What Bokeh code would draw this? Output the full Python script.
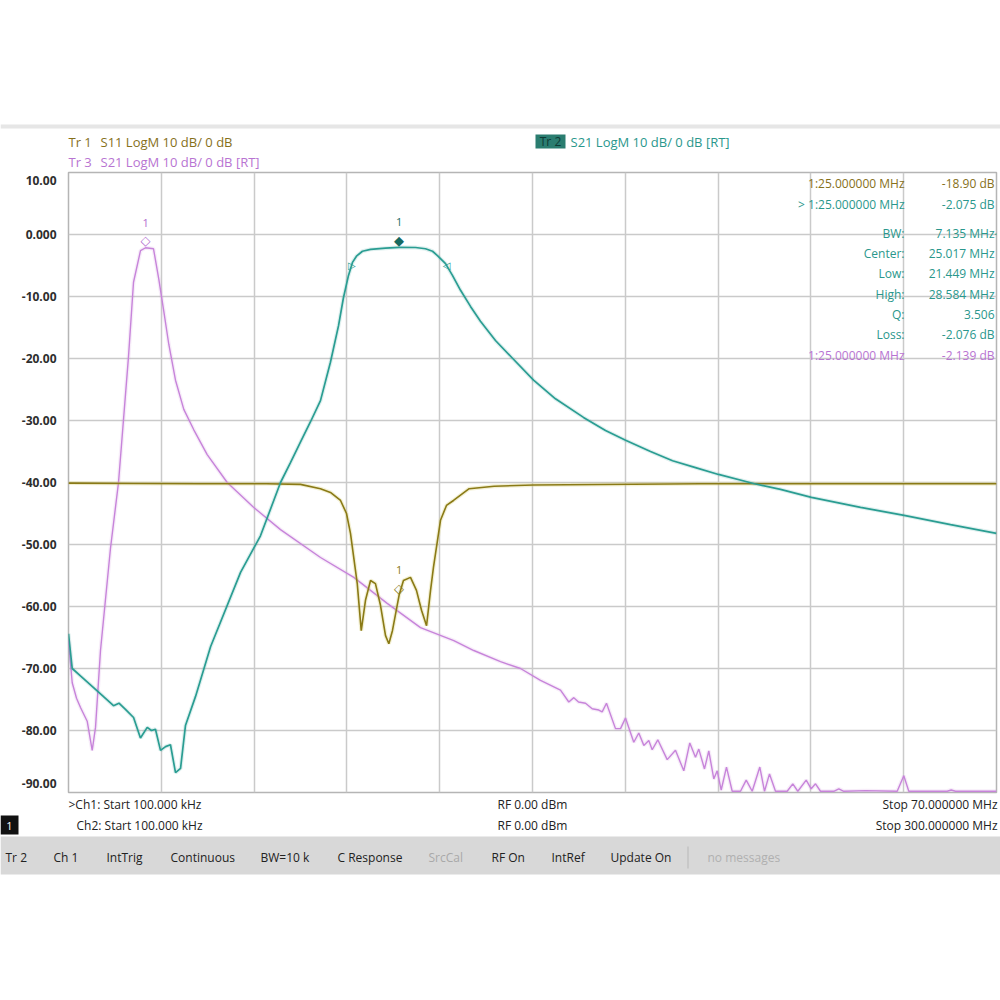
from bokeh.plotting import figure
from bokeh.layouts import column
from bokeh.models import Range1d, FixedTicker, Label
from bokeh.core.properties import value
from bokeh.embed import file_html
from bokeh.resources import INLINE

# ---------------- data ----------------
ch1_start, ch1_stop = 0.1, 70.0      # MHz (Tr1, Tr2)
ch2_start, ch2_stop = 0.1, 300.0     # MHz (Tr3)
y_grid_ticks = [10, 0, -10, -20, -30, -40, -50, -60, -70, -80, -90]
# label positions as drawn by the analyzer (top/bottom labels sit inside the box)
y_label_ticks = [8.7, 0, -10, -20, -30, -40, -50, -60, -70, -80, -88.5]
y_tick_labels = ["10.00", "0.000", "-10.00", "-20.00", "-30.00", "-40.00",
                 "-50.00", "-60.00", "-70.00", "-80.00", "-90.00"]

# Tr1 S11 (channel 1)
tr1_freq = [0.10, 5.0, 10.0, 15.0, 17.57, 19.08, 19.83, 20.59, 21.04, 21.34,
            21.85, 22.15, 22.47, 22.85, 23.22, 23.60, 23.98, 24.23, 24.50, 25.00,
            25.33, 25.86, 26.31, 26.69, 27.07, 27.37, 27.59, 28.12, 28.57, 29.10,
            30.28, 32.16, 35.13, 47.7, 70.0]
tr1_db = [-40.1, -40.15, -40.2, -40.2, -40.3, -41.0, -41.6, -42.9, -45.0, -48.2,
          -56.3, -63.9, -59.0, -55.8, -56.3, -59.8, -64.7, -66.0, -63.9, -58.2,
          -55.8, -55.3, -57.4, -60.6, -63.1, -57.4, -53.7, -46.1, -43.7, -42.9,
          -41.0, -40.6, -40.4, -40.2, -40.2]

# Tr2 S21 (channel 1)
tr2_freq = [0.10, 0.38, 1.00, 2.26, 3.49, 3.90, 4.39, 5.00, 5.52, 6.03, 6.35,
            6.65, 7.03, 7.41, 7.78, 8.16, 8.54, 8.91, 9.67, 10.80, 13.06, 14.56,
            16.07, 16.82, 17.57, 18.33, 19.08, 19.83, 20.44, 20.81, 21.19, 21.49,
            21.79, 22.24, 22.85, 23.98, 25.00, 26.24, 26.99, 27.52, 27.89, 28.50,
            29.02, 29.63, 30.38, 31.13, 32.26, 33.47, 35.13, 36.78, 38.89, 40.55,
            42.06, 43.94, 45.60, 47.33, 49.06, 51.77, 53.73, 56.06, 59.76, 63.04,
            66.54, 70.00]
tr2_db = [-64.4, -70.0, -71.2, -73.6, -76.0, -75.6, -76.6, -77.9, -81.2, -79.5,
          -80.0, -79.8, -83.2, -82.6, -82.3, -86.8, -86.1, -79.2, -74.5, -66.5,
          -54.5, -48.6, -40.0, -36.8, -33.5, -30.2, -26.8, -20.6, -14.7, -10.2,
          -6.6, -4.5, -3.5, -2.7, -2.4, -2.2, -2.075, -2.1, -2.3, -2.7, -3.4,
          -4.7, -6.6, -9.0, -11.6, -14.0, -17.1, -19.8, -23.5, -26.5, -29.5,
          -31.6, -33.2, -35.0, -36.5, -37.6, -38.7, -40.2, -41.1, -42.4, -44.0,
          -45.3, -46.8, -48.2]

# Tr3 S21 (channel 2)
tr3_freq = [0.10, 1.30, 2.69, 3.98, 6.14, 7.76, 8.83, 10.44, 13.67, 16.26, 19.49,
            21.11, 23.37, 25.00, 27.57, 29.28, 30.90, 32.51, 34.68, 37.36, 40.59,
            44.92, 51.39, 59.89, 68.61, 81.54, 92.30, 103.09, 113.85, 124.62,
            131.08, 139.71, 146.17, 152.63, 159.10, 161.78, 163.40, 164.92, 167.18,
            169.34, 171.48, 172.57, 173.96, 176.87, 178.49, 180.10, 182.78, 184.40,
            186.02, 187.63, 188.73, 190.54, 193.58, 196.26, 198.94, 200.88, 202.72,
            203.79, 205.63, 207.02, 208.64, 209.74, 211.03, 212.74, 214.59, 217.27,
            219.11, 221.05, 223.51, 225.03, 226.64, 228.58, 232.36, 234.17, 235.79,
            238.50, 240.12, 241.51, 243.13, 247.42, 249.04, 250.66, 257.67, 267.91,
            270.04, 271.66, 284.07, 285.36, 286.75, 300.0]
tr3_db = [-65.5, -72.3, -74.8, -76.3, -78.5, -83.2, -79.5, -67.1, -50.6, -40.0,
          -19.7, -7.7, -2.6, -2.139, -2.3, -7.2, -12.4, -17.7, -23.5, -28.2, -31.5,
          -35.5, -40.0, -44.0, -47.6, -52.1, -55.3, -59.5, -63.4, -65.5, -67.1,
          -68.9, -70.0, -71.9, -73.5, -75.4, -74.7, -75.4, -75.6, -76.5, -76.7,
          -77.0, -75.6, -79.7, -79.7, -78.0, -81.9, -80.4, -82.4, -81.6, -83.1,
          -81.5, -84.7, -83.2, -86.5, -82.0, -84.3, -83.0, -86.2, -83.3, -87.8,
          -86.5, -89.6, -85.9, -89.8, -89.8, -88.0, -89.8, -85.9, -89.8, -87.0,
          -89.8, -89.8, -88.6, -89.8, -88.0, -89.4, -88.6, -89.8, -89.8, -89.4,
          -89.8, -89.7, -89.8, -87.3, -89.8, -89.8, -89.6, -89.8, -89.8]

marker_freq = 25.0
tr1_marker_db = -58.2
tr2_marker_db = -2.075
tr3_marker_db = -2.139
bw_low, bw_high = 21.449, 28.584
bw_level = tr2_marker_db - 3.0

# ---------------- style ----------------
FONT = "Open Sans"
TEAL = "#2a9d92"
TEAL_TXT = "#2a978c"
OLIVE = "#8a7a16"
OLIVE_TXT = "#86701a"
PURPLE = "#c784da"
PURPLE_TXT = "#b874d2"
W = 1000
FL, FT, FR, FB = 68, 172, 996, 792   # frame edges in page pixels
PAD = 2
HEAD_H = FT - PAD
FOOT_TOP = FB + PAD

# ---------------- main chart ----------------
p = figure(width=W, height=FOOT_TOP - HEAD_H, x_range=Range1d(ch1_start, ch1_stop),
           y_range=Range1d(-90, 10), output_backend="svg", toolbar_location=None,
           min_border_left=FL, min_border_right=W - FR, min_border_top=PAD,
           min_border_bottom=PAD, background_fill_color="white",
           border_fill_color="white", outline_line_color="#b5b5b5",
           outline_line_width=1.5, frame_align=False)
p.extra_x_ranges = {"ch2": Range1d(ch2_start, ch2_stop)}
p.xaxis.visible = False

x_grid = [ch1_start + i * (ch1_stop - ch1_start) / 10 for i in range(11)]
p.xgrid.ticker = FixedTicker(ticks=x_grid)
p.ygrid.ticker = FixedTicker(ticks=y_grid_ticks)
for g in (p.xgrid, p.ygrid):
    g.grid_line_color = "#cacaca"
    g.grid_line_width = 1.5

ax = p.yaxis[0]
ax.ticker = FixedTicker(ticks=y_label_ticks)
ax.major_label_overrides = {t: s for t, s in zip(y_label_ticks, y_tick_labels)}
ax.axis_line_color = None
ax.major_tick_line_color = None
ax.minor_tick_line_color = None
ax.major_label_standoff = 6
ax.major_label_text_font = FONT
ax.major_label_text_font_size = "12px"
ax.major_label_text_font_style = "bold"
ax.major_label_text_color = "#2e2e2e"

# traces (soft halo + line)
p.line(tr3_freq, tr3_db, x_range_name="ch2", line_color=PURPLE, line_width=4, line_alpha=0.15)
p.line(tr3_freq, tr3_db, x_range_name="ch2", line_color=PURPLE, line_width=1.4)
p.line(tr1_freq, tr1_db, line_color="#d8cc70", line_width=4, line_alpha=0.3)
p.line(tr1_freq, tr1_db, line_color=OLIVE, line_width=1.6)
p.line(tr2_freq, tr2_db, line_color=TEAL, line_width=4, line_alpha=0.15)
p.line(tr2_freq, tr2_db, line_color=TEAL, line_width=1.7)

DJ = value("DejaVu Sans")
# markers
p.text(x=[marker_freq], y=[tr2_marker_db], text=["◆"], text_color="#17695f",
       text_font=DJ, text_font_size="13px", text_align="center",
       text_baseline="middle", y_offset=-7)
p.text(x=[marker_freq], y=[tr2_marker_db], text=["1"], text_color="#1f6e63",
       text_font=value(FONT), text_font_size="11px", text_align="center",
       text_baseline="middle", y_offset=-25)
p.text(x=[marker_freq], y=[tr1_marker_db], text=["◇"], text_color=OLIVE,
       text_font=DJ, text_font_size="13px", text_align="center",
       text_baseline="middle", y_offset=-7)
p.text(x=[marker_freq], y=[tr1_marker_db], text=["1"], text_color=OLIVE,
       text_font=value(FONT), text_font_size="11px", text_align="center",
       text_baseline="middle", y_offset=-25)
p.text(x=[marker_freq], y=[tr3_marker_db], text=["◇"], text_color="#b36ccf",
       text_font=DJ, text_font_size="13px", text_align="center",
       text_baseline="middle", y_offset=-7, x_range_name="ch2")
p.text(x=[marker_freq], y=[tr3_marker_db], text=["1"], text_color="#b36ccf",
       text_font=value(FONT), text_font_size="11px", text_align="center",
       text_baseline="middle", y_offset=-25, x_range_name="ch2")
p.text(x=[bw_low, bw_high], y=[bw_level, bw_level], text=["▷", "◁"],
       text_color=TEAL, text_font=DJ, text_font_size="10px",
       text_align="center", text_baseline="middle")


def lab(X, Y, text, color, size="12px", align="left", font=FONT, style="normal"):
    p.add_layout(Label(x=X - FL, y=FB - Y, x_units="screen", y_units="screen",
                       text=text, text_color=color, text_font=font,
                       text_font_size=size, text_align=align,
                       text_baseline="middle", text_font_style=style))


lab(994, 233, "◂", TEAL, size="11px", align="left", font="DejaVu Sans")

# marker readout
LX, VX = 904, 994
rows = [
    (183, "1:25.000000 MHz", "-18.90 dB", OLIVE_TXT),
    (204, "> 1:25.000000 MHz", "-2.075 dB", TEAL_TXT),
    (233, "BW:", "7.135 MHz", TEAL_TXT),
    (253, "Center:", "25.017 MHz", TEAL_TXT),
    (273, "Low:", "21.449 MHz", TEAL_TXT),
    (294, "High:", "28.584 MHz", TEAL_TXT),
    (314, "Q:", "3.506", TEAL_TXT),
    (334, "Loss:", "-2.076 dB", TEAL_TXT),
    (355, "1:25.000000 MHz", "-2.139 dB", PURPLE_TXT),
]
for yy, a, b, c in rows:
    lab(LX, yy, a, c, size="12px", align="right")
    lab(VX, yy, b, c, size="12px", align="right")


# ---------------- header & footer (page-pixel coordinates) ----------------
def panel(y_top, y_bottom):
    f = figure(width=W, height=y_bottom - y_top, x_range=Range1d(0, W),
               y_range=Range1d(y_bottom, y_top), output_backend="svg",
               toolbar_location=None, x_axis_location=None, y_axis_location=None,
               min_border=0, outline_line_color=None, frame_align=False,
               background_fill_color="white", border_fill_color="white")
    f.grid.visible = False
    return f


def ptxt(f, X, Y, t, color, size="12px", align="left", font=FONT):
    f.text(x=[X], y=[Y], text=[t], text_color=color, text_font=value(font),
           text_font_size=size, text_align=align, text_baseline="middle")


def pbox(f, x0, y0, x1, y1, color):
    f.quad(left=[x0], right=[x1], top=[y0], bottom=[y1], fill_color=color,
           line_color=None)


head = panel(0, HEAD_H)
pbox(head, 0, 124, W, 128, "#e6e6e6")
pbox(head, 535, 134, 565, 148, "#2a7d70")
ptxt(head, 68, 141, "Tr 1", OLIVE_TXT, size="13px")
ptxt(head, 100, 141, "S11  LogM  10 dB/ 0 dB", OLIVE_TXT, size="13px")
ptxt(head, 68, 161, "Tr 3", PURPLE_TXT, size="13px")
ptxt(head, 100, 161, "S21  LogM  10 dB/ 0 dB [RT]", PURPLE_TXT, size="13px")
ptxt(head, 550, 141, "Tr 2", "#0d3a34", size="12px", align="center")
ptxt(head, 570, 141, "S21  LogM  10 dB/ 0 dB [RT]", TEAL_TXT, size="13px")

foot = panel(FOOT_TOP, 1000)
pbox(foot, 0, 836, W, 874, "#d8d8d8")
pbox(foot, 0, 815, 18, 834, "#111111")
ptxt(foot, 68, 804, ">Ch1: Start 100.000 kHz", "#222222")
ptxt(foot, 76, 825, "Ch2: Start 100.000 kHz", "#222222")
ptxt(foot, 497, 804, "RF 0.00 dBm", "#222222")
ptxt(foot, 497, 825, "RF 0.00 dBm", "#222222")
ptxt(foot, 997, 804, "Stop 70.000000 MHz", "#222222", align="right")
ptxt(foot, 997, 825, "Stop 300.000000 MHz", "#222222", align="right")
ptxt(foot, 9, 825, "1", "#ffffff", size="11px", align="center")
status = [(5, "Tr 2", "#222222"), (53, "Ch 1", "#222222"), (106, "IntTrig", "#222222"),
          (170, "Continuous", "#222222"), (260, "BW=10 k", "#222222"),
          (337, "C Response", "#222222"), (428, "SrcCal", "#a9a9a9"),
          (491, "RF On", "#222222"), (551, "IntRef", "#222222"),
          (610, "Update On", "#222222"), (707, "no messages", "#b0b0b0")]
for xx, t, c in status:
    ptxt(foot, xx, 857, t, c)
pbox(foot, 687, 846, 688, 868, "#b8b8b8")

layout = column(head, p, foot, spacing=0)
open("out.html", "w").write(file_html(layout, INLINE))
